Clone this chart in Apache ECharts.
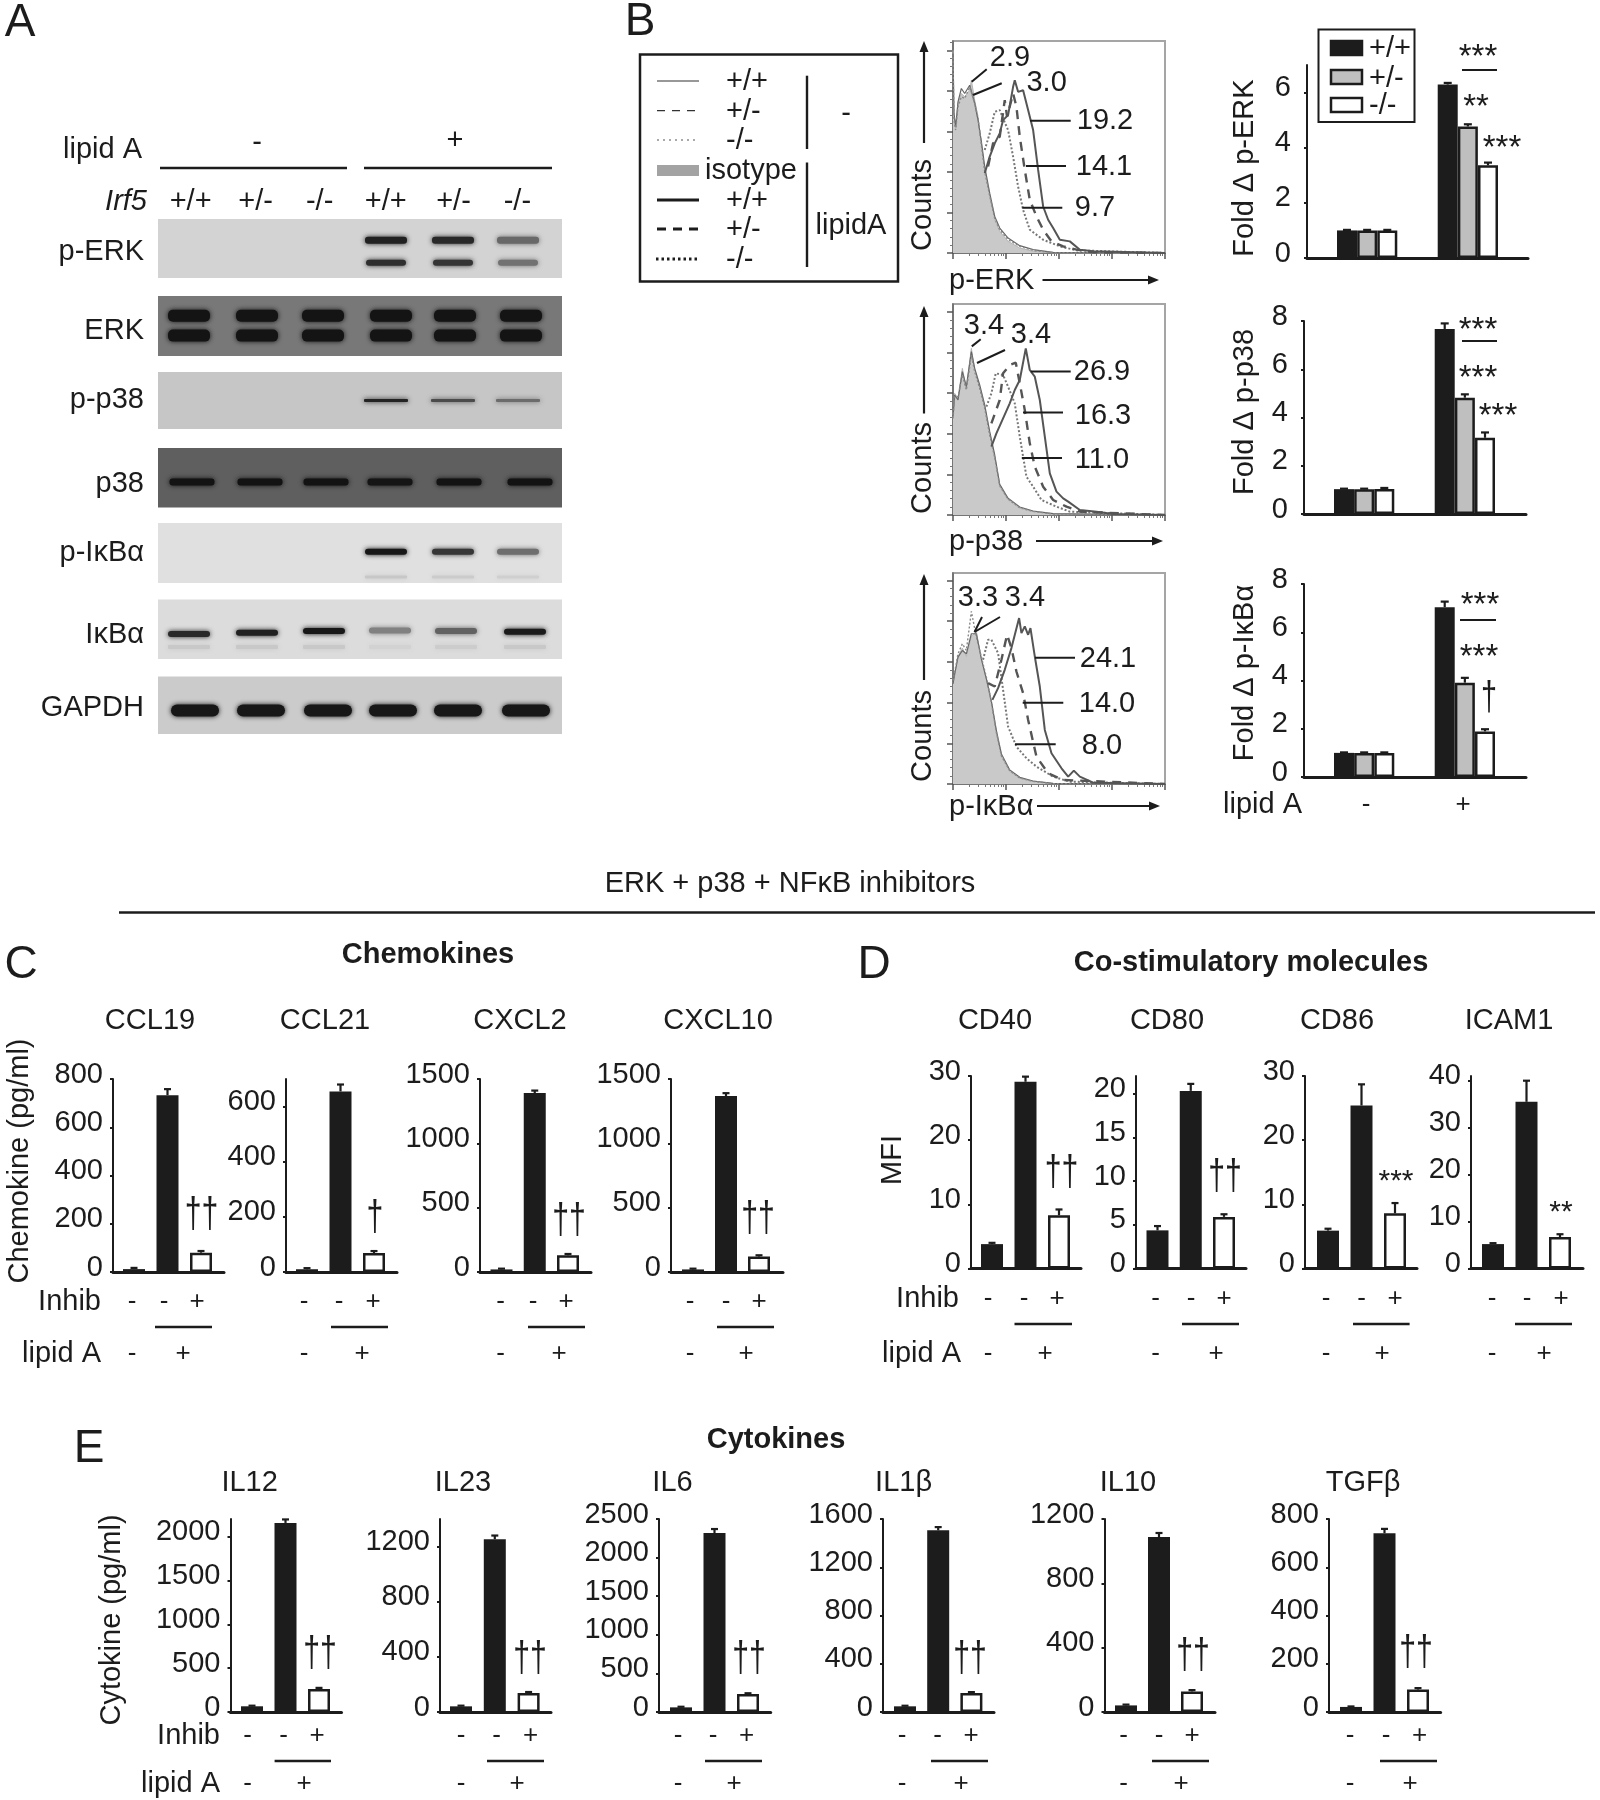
<!DOCTYPE html>
<html><head><meta charset="utf-8">
<style>html,body{margin:0;padding:0;background:#fff}#c{width:1600px;height:1800px}</style>
<script src="https://cdn.jsdelivr.net/npm/echarts@6/dist/echarts.min.js"></script>
</head><body><div id="c"></div>
<script>
// ---------- DATA: panel B bars (Fold change; -: +/+,+/-,-/-  then +: +/+,+/-,-/-)
const genotypePositions=[0,1,2,5,6,7];
const foldErkValues=[1,1,1,6.29,4.77,3.36], foldErkTops=[1.02,1.02,1.02,6.35,4.85,3.46], foldErkTicks=[0,2,4,6];
const foldP38Values=[1.03,1.03,1.04,7.67,4.82,3.16], foldP38Tops=[1.05,1.05,1.08,7.9,4.96,3.38], foldP38Ticks=[0,2,4,6,8];
const foldIkbValues=[1,1,1,7.04,3.91,1.89], foldIkbTops=[1.02,1.02,1.02,7.27,4.11,1.98], foldIkbTicks=[0,2,4,6,8];
// ---------- DATA: panels C, D, E (-/-, lipid A, lipid A + inhibitors)
const treatmentPositions=[0,1,2];
const ccl19Values=[12,733,80], ccl19Tops=[17,758,87], ccl19Ticks=[0,200,400,600,800];
const ccl21Values=[10,655,69], ccl21Tops=[14,680,76], ccl21Ticks=[0,200,400,600];
const cxcl2Values=[20,1391,130], cxcl2Tops=[26,1410,140], cxcl2Ticks=[0,500,1000,1500];
const cxcl10Values=[20,1368,120], cxcl10Tops=[26,1390,130], cxcl10Ticks=[0,500,1000,1500];
const cd40Values=[3.8,29.1,8.3], cd40Tops=[4.0,29.9,9.2], cd40Ticks=[0,10,20,30];
const cd80Values=[4.36,20.3,5.9], cd80Tops=[4.85,21.1,6.2], cd80Ticks=[0,5,10,15,20];
const cd86Values=[5.9,25.4,8.6], cd86Tops=[6.2,28.7,10.2], cd86Ticks=[0,10,20,30];
const icam1Values=[5.2,35.5,6.7], icam1Tops=[5.4,40,7.3], icam1Ticks=[0,10,20,30,40];
const il12Values=[65,2155,262], il12Tops=[72,2195,275], il12Ticks=[0,500,1000,1500,2000];
const il23Values=[41,1253,138], il23Tops=[46,1280,145], il23Ticks=[0,400,800,1200];
const il6Values=[60,2319,233], il6Tops=[68,2370,243], il6Ticks=[0,500,1000,1500,2000,2500];
const il1bValues=[47,1506,157], il1bTops=[52,1533,165], il1bTicks=[0,400,800,1200,1600];
const il10Values=[41,1088,128], il10Tops=[46,1113,136], il10Ticks=[0,400,800,1200];
const tgfbValues=[21,741,93], tgfbTops=[23,759,99], tgfbTicks=[0,200,400,600,800];
// ---------- DATA: panel B histograms (channel, counts)
const erkIsoX=[100,103,108,115,125,135,150,155,165,175,185,195,210,225,240,265,300,340,400,735];
const erkIso=[610,410,375,450,480,470,490,520,460,410,330,250,170,100,65,35,15,5,0,0];
const erkThinWt=[600,420,380,455,495,480,505,510,450,400,335,260,180,110,75,45,22,10,2,0];
const erkThinKo=[590,400,370,440,470,465,500,500,450,405,325,245,172,105,70,40,20,8,1,0];
const erkWtX=[195,210,225,240,250,265,280,285,295,310,325,340,355,370,385,400,420,450,480,520,735];
const erkWt=[240,290,330,360,400,415,500,520,485,490,430,370,250,140,100,75,40,35,10,5,0];
const erkHetX=[205,220,240,255,262,280,290,300,315,330,350,370,395,430,470,520,735];
const erkHet=[260,330,350,460,410,480,440,350,250,160,110,70,35,20,10,2,0];
const erkKoX=[195,210,225,240,250,265,280,295,310,330,370,420,470,735];
const erkKo=[310,360,425,430,405,370,290,200,130,70,40,20,8,0];
const p38IsoX=[100,105,115,128,140,155,165,180,195,210,225,240,265,300,340,400,735];
const p38Iso=[300,365,350,440,380,500,435,385,325,245,175,85,45,20,10,3,0];
const p38ThinWt=[295,360,345,430,385,490,440,390,330,250,180,92,50,24,12,4,0];
const p38ThinKo=[290,355,355,420,375,480,430,380,320,240,172,88,48,22,11,3,0];
const p38WtX=[215,230,250,270,285,300,318,330,345,360,375,390,410,430,445,480,530,580,735];
const p38Wt=[205,245,290,335,375,405,500,435,415,345,235,125,70,50,40,15,10,3,0];
const p38HetX=[215,240,250,270,288,300,315,330,345,370,400,440,480,735];
const p38Het=[275,345,425,450,457,395,315,215,145,85,45,25,10,0];
const p38KoX=[200,215,228,250,265,285,300,320,340,365,410,450,735];
const p38Ko=[325,365,425,420,385,335,235,115,85,45,25,10,0];
const ikbIsoX=[100,105,115,128,140,155,170,185,200,215,230,245,270,300,340,400,735];
const ikbIso=[302,322,382,407,382,442,457,372,312,242,152,82,37,17,7,1,0];
const ikbThinWt=[300,330,380,400,390,450,450,375,315,248,160,90,42,20,9,2,0];
const ikbThinKo=[310,335,390,420,400,517,440,380,320,245,155,85,40,18,8,1,0];
const ikbWtX=[218,235,255,275,298,305,315,325,332,345,360,375,395,425,445,462,480,520,735];
const ikbWt=[252,287,342,407,497,452,472,447,467,382,292,162,92,47,22,40,22,4,0];
const ikbHetX=[205,225,245,262,275,290,310,325,350,385,430,735];
const ikbHet=[302,292,372,447,407,337,272,192,82,32,12,0];
const ikbKoX=[190,205,215,235,250,265,290,320,350,400,450,735];
const ikbKo=[372,432,432,392,282,172,112,77,52,22,7,0];
// ---------- DATA: panel A blots (lane along gel, height in gel 0-1, darkness 0-1)
const laneCenters=[31,99,165,233,297,363];
const pErkUpperDark=[0,0,0,.92,.88,.55], pErkLowerDark=[0,0,0,.85,.82,.5];
const pErkLanes=[228,295,360];
const erkUpperDark=[.97,.97,.97,.97,.97,.97], erkLowerDark=[.97,.97,.97,.97,.97,.97];
const pP38Dark=[.9,.68,.5], p38Dark=[.97,.97,.97,.95,.97,.97];
const pIkbDark=[.97,.82,.55], pIkbFaint=[.12,.1,.08];
const ikbDark=[.88,.92,.97,.45,.6,.95], ikbHeights=[.42,.44,.47,.48,.47,.46];
const gapdhDark=[.97,.97,.97,.97,.97,.97];
const blotNames=['p-ERK','ERK','p-p38','p38','p-IκBα','IκBα','GAPDH'];
const genotypeLabels=['+/+','+/-','-/-','+/+','+/-','-/-'];
// ---------- DATA: annotated percentages
const histLabelsErk=['2.9','3.0','19.2','14.1','9.7'];
const histLabelsP38=['3.4','3.4','26.9','16.3','11.0'];
const histLabelsIkb=['3.3','3.4','24.1','14.0','8.0'];

// ---------- layout and styles
const FONT='"Liberation Sans",Arial,sans-serif', INK='#1c1c1c';
const grids=[],xAxes=[],yAxes=[],series=[],gfx=[];
function T(s,x,y,o={}){gfx.push({type:'text',x,y:y+4,rotation:o.rot||0,scaleX:o.sx||1,silent:true,z:20,
  style:{text:s,fill:o.fill||INK,font:(o.italic?'italic ':'')+(o.bold?'bold ':'')+(o.size||29)+'px '+FONT,
  textAlign:o.align||'center',textVerticalAlign:'middle'}});}
function L(x1,y1,x2,y2,w=2,c=INK,dash){gfx.push({type:'line',silent:true,z:19,shape:{x1,y1,x2,y2},
  style:{stroke:c,lineWidth:w,lineDash:dash||null}});}
function arrow(x1,y1,x2,y2){const a=Math.atan2(y2-y1,x2-x1),s=11,h=4.5;
  L(x1,y1,x2-Math.cos(a)*s,y2-Math.sin(a)*s,2.2);
  const bx=x2-Math.cos(a)*s,by=y2-Math.sin(a)*s,px=-Math.sin(a)*h,py=Math.cos(a)*h;
  gfx.push({type:'polygon',silent:true,z:19,shape:{points:[[x2,y2],[bx+px,by+py],[bx-px,by-py]]},style:{fill:INK}});}

function errRender(capPx){return function(p,api){
  const x=api.value(0),a=api.coord([x,api.value(1)]),b=api.coord([x,api.value(2)]);
  const st={stroke:INK,lineWidth:2.2};
  return {type:'group',children:[
    {type:'line',shape:{x1:a[0],y1:a[1],x2:b[0],y2:b[1]},style:st},
    {type:'line',shape:{x1:a[0]-capPx,y1:b[1],x2:a[0]+capPx,y2:b[1]},style:st}]};};}

function barChart(o){
  const gi=grids.length,ax=xAxes.length,n=o.xs[o.xs.length-1],s=(o.c1-o.c0)/n;
  grids.push({left:o.left,width:o.right-o.left,top:o.top,height:o.bottom-o.top,containLabel:false});
  xAxes.push({gridIndex:gi,type:'value',min:-(o.c0-o.left)/s,max:n+(o.right-o.c1)/s,splitLine:{show:false},
    axisTick:{show:false},axisLabel:{show:false},axisLine:{show:true,onZero:false,lineStyle:{color:INK,width:3}}});
  yAxes.push({gridIndex:gi,type:'value',min:0,max:o.max,splitLine:{show:false},
    axisLine:{show:true,onZero:false,lineStyle:{color:INK,width:2}},
    axisTick:{show:true,length:3,customValues:o.ticks,lineStyle:{color:INK,width:2}},
    axisLabel:{show:true,customValues:o.ticks,formatter:v=>String(v),fontFamily:'Liberation Sans',fontSize:o.fs||29,color:INK,margin:o.margin||10,verticalAlign:'bottom',lineHeight:9}});
  const fills=o.fills,borders=o.xs.map(()=>INK);
  series.push({type:'bar',xAxisIndex:ax,yAxisIndex:ax,barWidth:o.bw||21,animation:false,z:3,silent:true,
    data:o.xs.map((x,i)=>({value:[x,o.values[i]],itemStyle:{color:fills[i],borderColor:borders[i],borderWidth:fills[i]==INK?0:2.5}}))});
  series.push({type:'custom',xAxisIndex:ax,yAxisIndex:ax,animation:false,z:2,silent:true,clip:false,
    encode:{x:0,y:[1,2]},renderItem:errRender(o.cap||3.5),data:o.xs.map((x,i)=>[x,o.values[i],o.tops[i]])});
}
const TREAT=[INK,INK,'#ffffff'];
const G='#bfbfbf',W='#ffffff';
const FOLD=[INK,G,W,INK,G,W];

// ---------- Panel A
T('A',20,19,{size:46});
T('lipid A',142,146,{align:'right'});T('-',257,139);T('+',455,137);
L(160,168,347,168,2.4);L(364,168,552,168,2.4);
T('Irf5',147,198,{align:'right',italic:true});
[190.6,255.6,319.6,385.8,453.5,517.4].forEach((x,i)=>T(genotypeLabels[i],x,198));

function bandSeries(ax,data,color,w,h,r){
  series.push({type:'custom',xAxisIndex:ax,yAxisIndex:ax,animation:false,silent:true,encode:{x:0,y:1},data,
    renderItem(p,api){const c=api.coord([api.value(0),api.value(1)]),d=api.value(2);
      const col=mix(color,'#111111',d);
      return {type:'rect',shape:{x:c[0]-w/2,y:c[1]-h/2,width:w,height:h,r},style:{fill:col,shadowBlur:5,shadowColor:col}};}});
}
function mix(a,b,t){const pa=parseInt(a.slice(1),16),pb=parseInt(b.slice(1),16);
  const f=s=>Math.round(((pa>>s)&255)*(1-t)+((pb>>s)&255)*t);return 'rgb('+f(16)+','+f(8)+','+f(0)+')';}
function blot(name,top,bottom,bg,labelY,bands){
  const gi=grids.length,ax=xAxes.length;
  grids.push({left:158,width:404,top,height:bottom-top,show:true,backgroundColor:bg,borderWidth:0});
  xAxes.push({gridIndex:gi,type:'value',min:0,max:404,show:false});
  yAxes.push({gridIndex:gi,type:'value',min:0,max:1,show:false});
  bands.forEach(b=>bandSeries(ax,b.data,bg,b.w,b.h,b.r));
  T(name,144,labelY,{align:'right'});
}
const zip=(xs,y,ds)=>xs.map((x,i)=>[x,Array.isArray(y)?y[i]:y,ds[i]]);
blot(blotNames[0],219,278,'#d3d3d3',248,[
  {data:zip(pErkLanes,.64,pErkUpperDark.slice(3)),w:42,h:7,r:3},
  {data:zip(pErkLanes,.26,pErkLowerDark.slice(3)),w:40,h:6,r:3}]);
blot(blotNames[1],296,356,'#787878',327,[
  {data:zip(laneCenters,.67,erkUpperDark),w:42,h:12,r:5},{data:zip(laneCenters,.34,erkLowerDark),w:42,h:12,r:5}]);
blot(blotNames[2],372,429,'#c6c6c6',396,[{data:zip(pErkLanes,.5,pP38Dark),w:44,h:3,r:1}]);
blot(blotNames[3],448,507.5,'#5f5f5f',480,[{data:zip([34,102,168,232,301,372],.43,p38Dark),w:45,h:7,r:3}]);
blot(blotNames[4],523,583,'#e0e0e0',549,[
  {data:zip(pErkLanes,.52,pIkbDark),w:42,h:6,r:3},{data:zip(pErkLanes,.1,pIkbFaint),w:42,h:3,r:1}]);
blot(blotNames[5],599.5,659,'#dcdcdc',631,[
  {data:zip([31,99,166,232,298,367],ikbHeights,ikbDark),w:42,h:6,r:3},
  {data:zip([31,99,166,232,298,367],.2,[.1,.1,.1,.05,.08,.1]),w:42,h:4,r:1}]);
blot(blotNames[6],676.5,734,'#cbcbcb',704,[{data:zip([37,103,170,235,300,368],.41,gapdhDark),w:48,h:12,r:6}]);

// ---------- Panel B legend
T('B',640,18,{size:46});
gfx.push({type:'rect',silent:true,z:18,shape:{x:640,y:54.5,width:258,height:227},style:{fill:'none',stroke:INK,lineWidth:2.5}});
const legY=[78,107.7,137,166.6,197,226,256];
const legTxt=['+/+','+/-','-/-',null,'+/+','+/-','-/-'];
legY.forEach((y,i)=>{if(legTxt[i])T(legTxt[i],726,y,{align:'left'});});
L(657,81,699,81,1.2,'#333');L(657,110.7,699,110.7,1.2,'#333',[8,7]);L(657,140,699,140,1.2,'#555',[2,4]);
gfx.push({type:'rect',silent:true,z:19,shape:{x:657,y:165,width:42,height:11},style:{fill:'#a3a3a3'}});
T('isotype',705,166.6,{align:'left'});
L(657,200,699,200,3.2);L(657,229,699,229,3.2,INK,[9,7]);L(656,259,699,259,3,INK,[2.5,3]);
L(807,75.7,807,149,2.4);L(807,162.5,807,267,2.4);
T('-',846,110);T('lipidA',851,222);

// ---------- Panel B histograms
const HX=[100,258.75,417.5,576.25,735],HXminor=[];
HX.slice(0,4).forEach(d=>[47.8,75.8,95.6,111,123.5,134.2,143.4,151.5].forEach(o=>HXminor.push(d+o)));
const HY=[0,122,244,366,488,610],HYminor=[];for(let v=24.4;v<638;v+=24.4)if(HY.every(m=>Math.abs(m-v)>1))HYminor.push(Math.round(v*10)/10);
function hist(top,bottom,ymax,iso,thin,wt,het,ko){
  const gi=grids.length,left=953,width=212;
  grids.push({left,width,top,height:bottom-top,show:true,backgroundColor:'#fff',borderColor:'#a5a5a5',borderWidth:2});
  const ia=xAxes.length;
  xAxes.push({gridIndex:gi,type:'value',min:100,max:735,splitLine:{show:false},axisLabel:{show:false},
    axisLine:{onZero:false,lineStyle:{color:'#666',width:1.5}},axisTick:{customValues:HX,length:6,lineStyle:{color:'#555',width:1.5}}});
  xAxes.push({gridIndex:gi,type:'value',min:100,max:735,position:'bottom',splitLine:{show:false},axisLabel:{show:false},
    axisLine:{show:false},axisTick:{customValues:HXminor,length:3,lineStyle:{color:'#777',width:1}}});
  yAxes.push({gridIndex:gi,type:'value',min:0,max:ymax,position:'left',splitLine:{show:false},axisLabel:{show:false},
    axisLine:{onZero:false,lineStyle:{color:'#666',width:1.5}},axisTick:{customValues:HY,length:6,lineStyle:{color:'#555',width:1.5}}});
  yAxes.push({gridIndex:gi,type:'value',min:0,max:ymax,position:'left',splitLine:{show:false},axisLabel:{show:false},
    axisLine:{show:false},axisTick:{customValues:HYminor,length:3,lineStyle:{color:'#777',width:1}}});
  const pts=(xs,ys)=>xs.map((x,i)=>[x,ys[i]]);
  const add=(d,ls,extra)=>series.push(Object.assign({type:'line',xAxisIndex:ia,yAxisIndex:ia,showSymbol:false,silent:true,animation:false,data:d,lineStyle:ls},extra||{}));
  add(pts(iso[0],iso[1]),{color:'#b5b5b5',width:1},{areaStyle:{color:'#c9c9c9',opacity:1}});
  add(pts(iso[0],thin[0]),{color:'#666',width:1.2});
  add(pts(iso[0],thin[1]),{color:'#888',width:1.4,type:[2,2]});
  add(pts(ko[0],ko[1]),{color:'#777',width:2,type:[2,2]});
  add(pts(het[0],het[1]),{color:'#555',width:2.4,type:[9,7]});
  add(pts(wt[0],wt[1]),{color:'#555',width:2});
}
hist(41,253,638,[erkIsoX,erkIso],[erkThinWt,erkThinKo],[erkWtX,erkWt],[erkHetX,erkHet],[erkKoX,erkKo]);
hist(304,515,633,[p38IsoX,p38Iso],[p38ThinWt,p38ThinKo],[p38WtX,p38Wt],[p38HetX,p38Het],[p38KoX,p38Ko]);
hist(573,784,632,[ikbIsoX,ikbIso],[ikbThinWt,ikbThinKo],[ikbWtX,ikbWt],[ikbHetX,ikbHet],[ikbKoX,ikbKo]);
const R=Math.PI/2,HS=29;
// p-ERK
T(histLabelsErk[0],1010,54,{size:HS});T(histLabelsErk[1],1046.6,79,{size:HS});T(histLabelsErk[2],1105,117,{size:HS});T(histLabelsErk[3],1104,163,{size:HS});T(histLabelsErk[4],1095,204,{size:HS});
L(971.7,81.7,986.7,69.3);L(973,95,1001.7,83.3);L(1030,120.7,1070.7,120.7);L(1026,166,1066,166);L(1022.3,207.7,1062.3,207.7);
arrow(924,143,924,41);T('Counts',923,201,{rot:R});T('p-ERK',949,277,{align:'left'});arrow(1042.5,280,1159,280);
// p-p38
T(histLabelsP38[0],984,322,{size:HS});T(histLabelsP38[1],1031,331,{size:HS});T(histLabelsP38[2],1102,368.4,{size:HS});T(histLabelsP38[3],1103,412,{size:HS});T(histLabelsP38[4],1102,456,{size:HS});
L(971.8,346.4,980.7,339.3);L(977,363,1005,350);L(1030.7,371.4,1070.7,371.4);L(1023,412.5,1063,412.5);L(1021.8,458,1062,458);
arrow(924,413.5,924,306);T('Counts',923,464,{rot:R});T('p-p38',949,538,{align:'left'});arrow(1036,541,1163,541);
// p-IkBa
T(histLabelsIkb[0],978,594,{size:HS});T(histLabelsIkb[1],1025,594,{size:HS});T(histLabelsIkb[2],1108,655,{size:HS});T(histLabelsIkb[3],1107,700,{size:HS});T(histLabelsIkb[4],1102,742,{size:HS});
L(1000,617,974.5,632);L(974.5,632,982,617);L(1035,657.7,1075,657.7);L(1022.7,702.7,1063.3,702.7);L(1015,744.3,1055.7,744.3);
arrow(924,680,924,574);T('Counts',923,732,{rot:R});T('p-IκBα',949,803,{align:'left'});arrow(1037,806,1160,806);

// ---------- Panel B fold-change bars
const FOLDCFG={xs:genotypePositions,fills:FOLD,fs:29,margin:16,bw:20,cap:4};
barChart(Object.assign({left:1307,right:1528,top:65,bottom:258,max:7,ticks:foldErkTicks,values:foldErkValues,tops:foldErkTops,c0:1347,c1:1488},FOLDCFG));
barChart(Object.assign({left:1304,right:1526,top:321,bottom:514,max:8,ticks:foldP38Ticks,values:foldP38Values,tops:foldP38Tops,c0:1344,c1:1485},FOLDCFG));
barChart(Object.assign({left:1304,right:1526,top:584,bottom:777,max:8,ticks:foldIkbTicks,values:foldIkbValues,tops:foldIkbTops,c0:1344,c1:1485},FOLDCFG));
T('Fold Δ p-ERK',1245,164,{rot:R});T('Fold Δ p-p38',1245,408,{rot:R});T('Fold Δ p-IκBα',1245,669,{rot:R});
gfx.push({type:'rect',silent:true,z:18,shape:{x:1318.5,y:29.5,width:96,height:92.5},style:{fill:'#fff',stroke:INK,lineWidth:2}});
[[41,INK],[70,G],[98,W]].forEach(([y,f])=>gfx.push({type:'rect',silent:true,z:19,shape:{x:1331,y,width:31,height:14},style:{fill:f,stroke:INK,lineWidth:2.5}}));
T('+/+',1369,45,{align:'left'});T('+/-',1369,74.6,{align:'left'});T('-/-',1369,102.4,{align:'left'});
const AST=33;
function stars(s,x,y,size){T(s,x,y+3,{size:size||AST});}
stars('***',1478,51);L(1462,70,1497,70);stars('**',1476,101);stars('***',1502,142);
stars('***',1478,324);L(1462,341,1497,341);stars('***',1478,372);stars('***',1498,410);
stars('***',1480,599);L(1460,620,1496,620);stars('***',1479,651);T('†',1489,695,{size:40,sx:.72});
T('lipid A',1302,801,{align:'right'});T('-',1366,801,{size:26});T('+',1463,801,{size:26});

// ---------- Divider
T('ERK + p38 + NFκB inhibitors',790,880);L(119,912.5,1595,912.5,2.4);

// ---------- Panels C, D, E
function treatment(o,rows,marks){
  barChart({xs:treatmentPositions,fills:TREAT,...o});
  T(o.title,o.titleX,o.titleY);
  rows.inhib.forEach((x,i)=>T(i==2?'+':'-',x,o.inhibY,{size:26}));
  T('-',rows.lipid[0],o.lipidY,{size:26});T('+',rows.lipid[1],o.lipidY,{size:26});
  L(rows.line[0],o.lineY,rows.line[1],o.lineY,2.6);
  if(marks){marks[0].startsWith('*')?stars(marks[0],marks[1],marks[2],30):T(marks[0],marks[1],marks[2],{size:42,sx:.72});}
}
const C={top:1079,bottom:1272,titleY:1017,inhibY:1298,lineY:1327,lipidY:1350,bw:22};
T('C',21,961,{size:46});T('Chemokines',428,951,{bold:true});
T('Chemokine (pg/ml)',20,1157,{rot:R});T('Inhib',101,1298,{align:'right'});T('lipid A',101,1350,{align:'right'});
treatment({...C,left:113,right:224,max:800,ticks:ccl19Ticks,values:ccl19Values,tops:ccl19Tops,c0:134,c1:201,title:'CCL19',titleX:150},{inhib:[132,164,197],lipid:[132,183],line:[155,212]},['††',201.5,1211]);
treatment({...C,left:286,right:397,max:700,ticks:ccl21Ticks,values:ccl21Values,tops:ccl21Tops,c0:307,c1:374,title:'CCL21',titleX:325},{inhib:[304,339,373],lipid:[304,362],line:[331,388]},['†',375,1214]);
treatment({...C,left:480,right:591,max:1500,ticks:cxcl2Ticks,values:cxcl2Values,tops:cxcl2Tops,c0:501.5,c1:568,title:'CXCL2',titleX:520},{inhib:[500.5,533,566],lipid:[500.5,559],line:[528,585]},['††',569,1217]);
treatment({...C,left:671,right:783,max:1500,ticks:cxcl10Ticks,values:cxcl10Values,tops:cxcl10Tops,c0:693,c1:759,title:'CXCL10',titleX:718},{inhib:[690,726,759],lipid:[690,746],line:[717,774]},['††',758,1215]);

const D={top:1076,bottom:1268.5,titleY:1017,inhibY:1295,lineY:1324,lipidY:1350,bw:22};
T('D',874,961,{size:46});T('Co-stimulatory molecules',1251,959,{bold:true});
T('MFI',893,1156,{rot:R});T('Inhib',959,1295,{align:'right'});T('lipid A',961,1350,{align:'right'});
treatment({...D,left:971,right:1081,max:30,ticks:cd40Ticks,values:cd40Values,tops:cd40Tops,c0:992,c1:1059,title:'CD40',titleX:995},{inhib:[988,1024,1057],lipid:[988,1045],line:[1014.5,1072]},['††',1061.5,1169]);
treatment({...D,left:1136,right:1246,max:22,ticks:cd80Ticks,values:cd80Values,tops:cd80Tops,c0:1157.5,c1:1224,title:'CD80',titleX:1167},{inhib:[1155.6,1191,1224],lipid:[1155.6,1216],line:[1182,1239]},['††',1225,1173]);
treatment({...D,left:1305,right:1417,max:30,ticks:cd86Ticks,values:cd86Values,tops:cd86Tops,c0:1328,c1:1395,title:'CD86',titleX:1337},{inhib:[1326,1361.6,1395],lipid:[1326,1382],line:[1353,1409.6]},['***',1396,1175]);
treatment({...D,left:1471,right:1583,max:41,ticks:icam1Ticks,values:icam1Values,tops:icam1Tops,c0:1493,c1:1560,title:'ICAM1',titleX:1509},{inhib:[1492,1527,1561],lipid:[1492,1544],line:[1515,1572]},['**',1561,1206]);

const E={top:1519,bottom:1712,titleY:1479,inhibY:1732,lineY:1761,lipidY:1780,bw:22};
T('E',89,1445,{size:46});T('Cytokines',776,1436,{bold:true});
T('Cytokine (pg/ml)',112,1616,{rot:R});T('Inhib',220,1732,{align:'right'});T('lipid A',220,1780,{align:'right'});
treatment({...E,left:230.5,right:341.5,max:2200,ticks:il12Ticks,values:il12Values,tops:il12Tops,c0:252,c1:319,title:'IL12',titleX:249.6},{inhib:[247.6,283.5,317],lipid:[247.6,304],line:[274.6,331]},['††',320,1650]);
treatment({...E,left:440,right:551,max:1400,ticks:il23Ticks,values:il23Values,tops:il23Tops,c0:461,c1:528.6,title:'IL23',titleX:463},{inhib:[461,496.6,530.5],lipid:[461,517],line:[487,544]},['††',530,1655]);
treatment({...E,left:659,right:770.7,max:2500,ticks:il6Ticks,values:il6Values,tops:il6Tops,c0:681,c1:748,title:'IL6',titleX:672.5},{inhib:[678,713,746.6],lipid:[678,734],line:[705,762]},['††',749,1655]);
treatment({...E,left:883,right:994,max:1600,ticks:il1bTicks,values:il1bValues,tops:il1bTops,c0:905,c1:971.4,title:'IL1β',titleX:903.6},{inhib:[902,937.5,971],lipid:[902,961],line:[931,988]},['††',970,1655]);
treatment({...E,left:1104.5,right:1215,max:1200,ticks:il10Ticks,values:il10Values,tops:il10Tops,c0:1126,c1:1192,title:'IL10',titleX:1128},{inhib:[1123.7,1159,1192],lipid:[1123.7,1181],line:[1152,1209]},['††',1193,1652]);
treatment({...E,left:1329,right:1440.6,max:800,ticks:tgfbTicks,values:tgfbValues,tops:tgfbTops,c0:1351,c1:1418,title:'TGFβ',titleX:1363},{inhib:[1350,1386,1419.6],lipid:[1350,1410],line:[1380,1437]},['††',1416,1649]);

const chart=echarts.init(document.getElementById('c'),null,{renderer:'canvas',width:1600,height:1800});
chart.setOption({animation:false,backgroundColor:'#ffffff',tooltip:{show:false},grid:grids,xAxis:xAxes,yAxis:yAxes,series,graphic:{elements:gfx}});
</script></body></html>
